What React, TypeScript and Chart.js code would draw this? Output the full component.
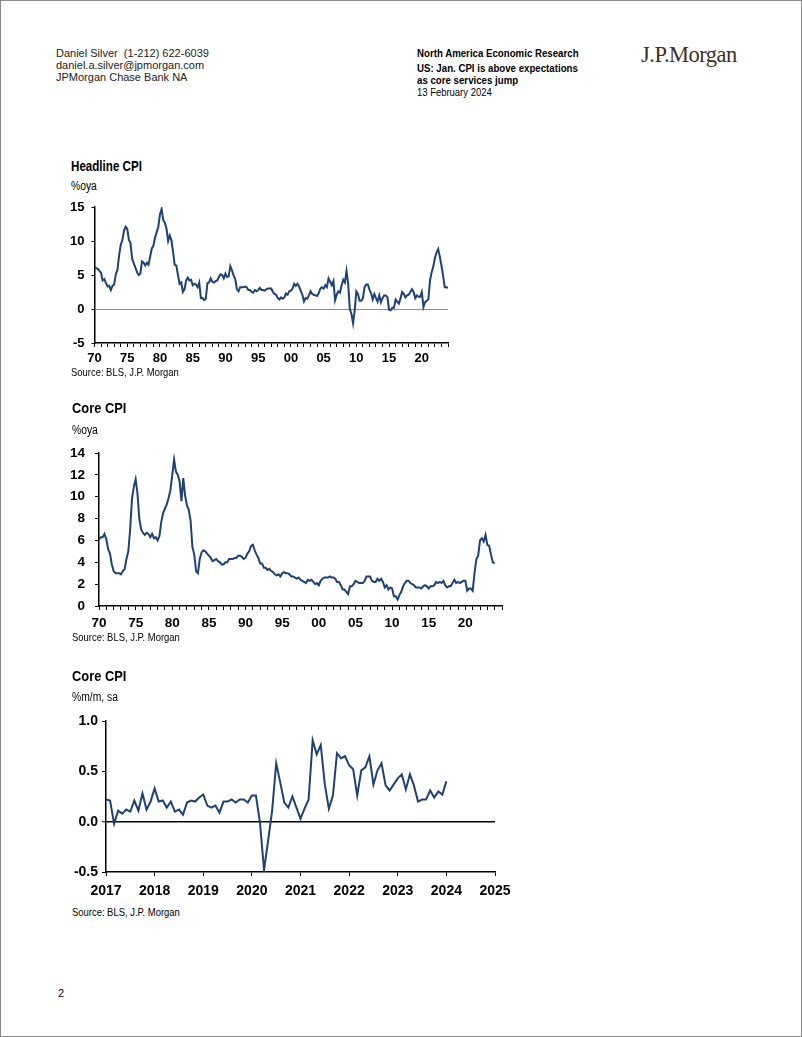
import React, { useEffect, useRef } from "react";
import { Chart, registerables } from "chart.js";
Chart.register(...registerables);

const FONT = "'Liberation Sans Narrow', 'Arial Narrow', 'Liberation Sans', Arial, sans-serif";
const LINE_COLOR = "#1f4174";

// Quarterly observations (Jan, Apr, Jul, Oct) from 1970 Q1 to Jan 2024, %oya
const yoyStartYear = 1970;
const headlineCPI = [
  6.2, 6.0, 5.9, 5.6, 5.3, 4.2, 4.4, 3.8, 3.3, 3.4, 2.8, 3.4, 3.6, 5.1, 5.7, 7.8,
  9.4, 10.1, 11.5, 12.1, 11.8, 10.2, 9.7, 7.4, 6.7, 6.1, 5.4, 5.0, 5.2, 7.0, 6.8, 6.4,
  6.8, 6.5, 7.7, 8.9, 9.3, 10.5, 11.3, 12.1, 13.9, 14.7, 13.1, 12.7, 11.8, 10.0, 10.8, 10.1,
  8.4, 6.5, 6.4, 5.0, 3.7, 3.9, 2.5, 2.9, 4.2, 4.6, 4.2, 4.3, 3.5, 3.7, 3.6, 3.2,
  3.9, 1.6, 1.6, 1.3, 1.5, 3.8, 3.9, 4.5, 4.0, 3.9, 4.1, 4.2, 4.7, 5.1, 5.0, 4.5,
  5.2, 4.7, 4.8, 6.3, 5.7, 4.9, 4.4, 2.9, 2.6, 3.2, 3.2, 3.2, 3.3, 3.2, 2.8, 2.8,
  2.5, 2.4, 2.8, 2.6, 2.8, 3.1, 2.8, 2.8, 2.7, 2.9, 3.0, 3.0, 3.0, 2.5, 2.2, 2.1,
  1.6, 1.4, 1.7, 1.5, 1.7, 2.3, 2.1, 2.6, 2.7, 3.0, 3.7, 3.4, 3.7, 3.3, 2.7, 2.1,
  1.1, 1.6, 1.5, 2.0, 2.6, 2.2, 2.1, 2.0, 1.9, 2.3, 3.0, 3.2, 3.0, 3.5, 3.2, 4.5,
  4.0, 3.5, 4.1, 1.3, 2.1, 2.6, 2.4, 3.5, 4.3, 3.9, 5.6, 3.7, 0.0, -0.7, -2.1, -0.2,
  2.6, 2.2, 1.2, 1.2, 1.6, 3.2, 3.6, 3.6, 2.9, 2.3, 1.4, 2.2, 1.6, 1.1, 2.0, 1.0,
  1.6, 2.0, 2.0, 1.7, -0.1, -0.2, 0.2, 0.2, 1.4, 1.1, 0.8, 1.6, 2.5, 2.2, 1.7, 2.0,
  2.1, 2.5, 2.9, 2.5, 1.6, 2.0, 1.8, 1.8, 2.5, 0.3, 1.0, 1.2, 1.4, 4.2, 5.4, 6.2,
  7.5, 8.3, 8.8, 7.7, 6.4, 4.9, 3.2, 3.2, 3.1,
];
const coreCPI = [
  6.1, 6.3, 6.3, 6.6, 6.1, 5.2, 4.8, 3.8, 3.2, 3.0, 3.0, 3.0, 2.9, 3.2, 3.4, 4.3,
  5.0, 7.0, 9.8, 10.9, 11.6, 10.3, 8.0, 7.0, 6.7, 6.5, 6.7, 6.6, 6.3, 6.6, 6.2, 6.3,
  6.0, 6.4, 7.7, 8.5, 8.9, 9.3, 9.9, 10.6, 12.0, 13.4, 12.3, 12.0, 11.4, 9.6, 11.7, 10.1,
  9.2, 8.8, 7.8, 5.4, 4.7, 3.2, 3.0, 4.3, 4.9, 5.1, 5.0, 4.8, 4.6, 4.4, 4.1, 4.2,
  4.3, 4.1, 4.0, 3.8, 3.8, 4.0, 4.0, 4.3, 4.3, 4.3, 4.4, 4.4, 4.6, 4.6, 4.5, 4.3,
  4.4, 4.8, 5.0, 5.5, 5.6, 5.1, 4.7, 4.4, 3.9, 3.9, 3.5, 3.5, 3.3, 3.4, 3.2, 3.1,
  2.9, 2.8, 2.9, 2.7, 3.0, 3.1, 3.0, 3.0, 2.9, 2.7, 2.7, 2.6, 2.5, 2.6, 2.4, 2.3,
  2.2, 2.1, 2.4, 2.3, 2.4, 2.2, 2.0, 2.1, 1.9, 2.3, 2.5, 2.6, 2.6, 2.6, 2.7, 2.6,
  2.6, 2.5, 2.2, 2.2, 1.9, 1.5, 1.5, 1.3, 1.1, 1.8, 1.8, 2.0, 2.3, 2.2, 2.1, 2.1,
  2.1, 2.3, 2.7, 2.7, 2.7, 2.3, 2.2, 2.2, 2.5, 2.3, 2.5, 2.2, 1.7, 1.9, 1.5, 1.7,
  1.6, 0.9, 0.9, 0.6, 1.0, 1.3, 1.8, 2.1, 2.3, 2.3, 2.1, 2.0, 1.9, 1.7, 1.7, 1.7,
  1.6, 1.8, 1.9, 1.8, 1.6, 1.8, 1.8, 1.9, 2.2, 2.1, 2.2, 2.1, 2.3, 1.9, 1.7, 1.8,
  1.8, 2.1, 2.4, 2.1, 2.2, 2.1, 2.2, 2.3, 2.3, 1.4, 1.6, 1.6, 1.4, 3.0, 4.3, 4.6,
  6.0, 6.2, 5.9, 6.5, 5.6, 5.5, 4.7, 4.0, 3.9,
];

// Monthly core CPI %m/m, sa, Jan 2017 to Jan 2024
const momStartYear = 2017;
const coreMoM = [
  0.22, 0.21, -0.02, 0.11, 0.08, 0.12, 0.10, 0.21, 0.11, 0.28, 0.12, 0.20,
  0.33, 0.20, 0.21, 0.14, 0.20, 0.10, 0.12, 0.07, 0.19, 0.21, 0.20, 0.24,
  0.27, 0.16, 0.14, 0.16, 0.09, 0.20, 0.20, 0.22, 0.19, 0.22, 0.22, 0.19,
  0.26, 0.26, -0.01, -0.48, -0.19, 0.11, 0.58, 0.39, 0.19, 0.14, 0.25, 0.14,
  0.03, 0.13, 0.22, 0.81, 0.67, 0.76, 0.37, 0.13, 0.26, 0.68, 0.63, 0.65,
  0.56, 0.52, 0.26, 0.51, 0.54, 0.65, 0.37, 0.51, 0.58, 0.36, 0.31, 0.37,
  0.43, 0.47, 0.32, 0.47, 0.36, 0.20, 0.22, 0.22, 0.31, 0.24, 0.30, 0.27,
  0.40,
];

type ChartSpec = {
  left: number; top: number; width: number; height: number;
  plotLeft: number; plotTop: number; plotRight: number; plotBottom: number;
  points: { x: number; y: number }[];
  xMin: number; xMax: number; yMin: number; yMax: number; yStep: number;
  xLabel: (v: number) => string; yLabel: (v: number) => string;
  zeroColor: string; zeroWidth: number;
  xFont: number; yFont: number; xPad: number; yPad: number; yTickLen: number;
  lineWidth: number;
};

function LineChart(p: ChartSpec) {
  const ref = useRef<HTMLCanvasElement | null>(null);
  useEffect(() => {
    if (!ref.current) return;
    const yAxisW = p.plotLeft - p.left;
    const padTop = p.plotTop - p.top;
    const padRight = p.left + p.width - p.plotRight;
    const xAxisH = p.top + p.height - p.plotBottom;
    const chart = new Chart(ref.current, {
      type: "line",
      data: {
        datasets: [
          {
            data: p.points,
            borderColor: LINE_COLOR,
            borderWidth: p.lineWidth,
            pointRadius: 0,
            tension: 0,
            fill: false,
          },
        ],
      },
      options: {
        responsive: false,
        animation: false,
        devicePixelRatio: 1,
        layout: { autoPadding: false, padding: { left: 0, top: padTop, right: padRight, bottom: 0 } },
        plugins: { legend: { display: false }, tooltip: { enabled: false } },
        scales: {
          x: {
            type: "linear",
            min: p.xMin,
            max: p.xMax,
            border: { display: true, color: "#000", width: 1.5 },
            grid: { drawOnChartArea: false, tickLength: 4, tickColor: "#000", tickWidth: 1 },
            ticks: {
              stepSize: 1,
              autoSkip: false,
              includeBounds: false,
              maxRotation: 0,
              minRotation: 0,
              padding: p.xPad,
              color: "#000",
              font: { family: FONT, size: p.xFont, weight: "bold" },
              callback: (v: any) => p.xLabel(Number(v)),
            },
            afterFit: (s: any) => {
              s.height = xAxisH;
              s.paddingLeft = 0;
              s.paddingRight = 0;
            },
          },
          y: {
            type: "linear",
            min: p.yMin,
            max: p.yMax,
            border: { display: true, color: "#000", width: 1.5 },
            grid: {
              color: (c: any) => (c.tick && Math.abs(c.tick.value) < 1e-9 ? p.zeroColor : "rgba(0,0,0,0)"),
              lineWidth: (c: any) => (c.tick && Math.abs(c.tick.value) < 1e-9 ? p.zeroWidth : 1),
              tickColor: "#000",
              tickLength: p.yTickLen,
              tickWidth: 1,
            },
            ticks: {
              stepSize: p.yStep,
              padding: p.yPad,
              color: "#000",
              font: { family: FONT, size: p.yFont, weight: "bold" },
              callback: (v: any) => p.yLabel(Number(v)),
            },
            afterFit: (s: any) => {
              s.width = yAxisW;
              s.paddingTop = 0;
              s.paddingBottom = 0;
            },
          },
        },
      } as any,
    });
    return () => chart.destroy();
  }, []);
  return (
    <canvas
      ref={ref}
      width={p.width}
      height={p.height}
      style={{ position: "absolute", left: p.left, top: p.top, width: p.width, height: p.height }}
    />
  );
}

function T(props: {
  x: number; yc: number; size: number; bold?: boolean; color?: string; family?: string;
  children: any; spacing?: number; sx?: number;
}) {
  const lh = Math.round(props.size * 1.2);
  return (
    <div
      style={{
        position: "absolute",
        left: props.x,
        top: props.yc - lh / 2,
        fontSize: props.size,
        lineHeight: lh + "px",
        fontWeight: props.bold ? "bold" : "normal",
        color: props.color || "#000",
        fontFamily: props.family || FONT,
        whiteSpace: "nowrap",
        letterSpacing: props.spacing,
        transform: props.sx ? `scaleX(${props.sx})` : undefined,
        transformOrigin: "left center",
      }}
    >
      {props.children}
    </div>
  );
}

const two = (v: number) => String(((v % 100) + 100) % 100).padStart(2, "0");

export default function App() {
  const headlinePts = headlineCPI.map((y, i) => ({ x: yoyStartYear + i / 4, y }));
  const corePts = coreCPI.map((y, i) => ({ x: yoyStartYear + i / 4, y }));
  const momPts = coreMoM.map((y, i) => ({ x: momStartYear + i / 12, y }));
  return (
    <div
      style={{
        position: "absolute",
        left: 0,
        top: 0,
        width: 802,
        height: 1037,
        background: "#fff",
        boxShadow: "inset 0 0 0 1px #8a8a8a",
        overflow: "hidden",
      }}
    >
      <T x={56} yc={53} size={11} color="#222">Daniel Silver&nbsp;&nbsp;(1-212) 622-6039</T>
      <T x={56} yc={65} size={11} color="#222">daniel.a.silver@jpmorgan.com</T>
      <T x={56} yc={77} size={11} color="#222">JPMorgan Chase Bank NA</T>

      <T x={417} yc={53} size={11} bold sx={0.88}>North America Economic Research</T>
      <T x={417} yc={68} size={11} bold sx={0.88}>US: Jan. CPI is above expectations</T>
      <T x={417} yc={80} size={11} bold sx={0.88}>as core services jump</T>
      <T x={417} yc={92} size={11} sx={0.86}>13 February 2024</T>

      <T x={641} yc={54} size={22.5} color="#3f2e22" family="'Liberation Serif', 'Times New Roman', serif" spacing={-0.5}>J.P.Morgan</T>

      <T x={71} yc={166} size={14.5} bold sx={0.8}>Headline CPI</T>
      <T x={71} yc={186} size={12} sx={0.86}>%oya</T>
      <LineChart
        left={40} top={195} width={420} height={180}
        plotLeft={94.5} plotTop={207} plotRight={448} plotBottom={343}
        points={headlinePts}
        xMin={1970} xMax={2024} yMin={-5} yMax={15} yStep={5}
        xLabel={(v) => (v % 5 === 0 ? two(v) : "")}
        yLabel={(v) => String(v)}
        zeroColor="#8c8c8c" zeroWidth={1}
        xFont={13} yFont={13} xPad={4} yPad={7} yTickLen={3}
        lineWidth={2}
      />
      <T x={71} yc={372} size={11.5} sx={0.82}>Source: BLS, J.P. Morgan</T>

      <T x={72} yc={407} size={15.5} bold sx={0.83}>Core CPI</T>
      <T x={72} yc={430} size={12} sx={0.86}>%oya</T>
      <LineChart
        left={40} top={440} width={480} height={205}
        plotLeft={99} plotTop={453} plotRight={502} plotBottom={606}
        points={corePts}
        xMin={1970} xMax={2025} yMin={0} yMax={14} yStep={2}
        xLabel={(v) => (v % 5 === 0 && v < 2025 ? two(v) : "")}
        yLabel={(v) => String(v)}
        zeroColor="rgba(0,0,0,0)" zeroWidth={1}
        xFont={13.5} yFont={13.5} xPad={5} yPad={10} yTickLen={4}
        lineWidth={2}
      />
      <T x={72} yc={637} size={11.5} sx={0.82}>Source: BLS, J.P. Morgan</T>

      <T x={72} yc={675} size={15.5} bold sx={0.83}>Core CPI</T>
      <T x={72} yc={697} size={12} sx={0.86}>%m/m, sa</T>
      <LineChart
        left={40} top={710} width={480} height={195}
        plotLeft={106} plotTop={721} plotRight={495} plotBottom={872}
        points={momPts}
        xMin={2017} xMax={2025} yMin={-0.5} yMax={1.0} yStep={0.5}
        xLabel={(v) => String(v)}
        yLabel={(v) => v.toFixed(1)}
        zeroColor="#000" zeroWidth={1.5}
        xFont={14} yFont={14} xPad={7} yPad={4} yTickLen={4}
        lineWidth={2}
      />
      <T x={72} yc={912} size={11.5} sx={0.82}>Source: BLS, J.P. Morgan</T>

      <T x={58} yc={993} size={11}>2</T>
    </div>
  );
}
